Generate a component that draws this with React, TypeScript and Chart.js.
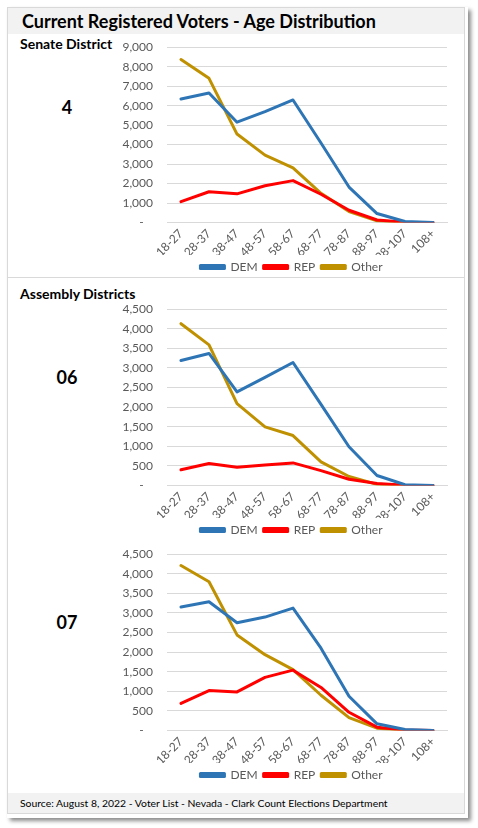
import React, { useEffect, useRef } from "react";
import { Chart, registerables } from "chart.js";

Chart.register(...registerables);

const ageGroups = ["18-27", "28-37", "38-47", "48-57", "58-67", "68-77", "78-87", "88-97", "98-107", "108+"];

const senate4Dem = [6340, 6650, 5150, 5690, 6290, 4080, 1820, 460, 50, 5];
const senate4Rep = [1070, 1580, 1470, 1890, 2150, 1450, 630, 130, 10, 0];
const senate4Other = [8370, 7400, 4540, 3460, 2810, 1500, 560, 90, 5, 0];

const assembly06Dem = [3190, 3370, 2390, 2760, 3140, 2070, 990, 255, 20, 2];
const assembly06Rep = [400, 560, 465, 525, 577, 380, 160, 50, 5, 0];
const assembly06Other = [4130, 3590, 2090, 1495, 1275, 605, 230, 30, 5, 0];

const assembly07Dem = [3150, 3285, 2750, 2895, 3125, 2100, 875, 170, 25, 3];
const assembly07Rep = [690, 1020, 985, 1355, 1540, 1100, 465, 85, 10, 0];
const assembly07Other = [4210, 3795, 2440, 1935, 1555, 900, 330, 60, 5, 0];

const seriesNames = ["DEM", "REP", "Other"];
const seriesColors = ["#2E75B6", "#FF0000", "#BF9000"];

const FONT = "Lato, 'Open Sans', sans-serif";
const TICK_COLOR = "#595959";
const GRID_COLOR = "#D9D9D9";

type ChartProps = {
  plotTop: number;
  legendY: number;
  max: number;
  step: number;
  dem: number[];
  rep: number[];
  other: number[];
};

const CANVAS_LEFT = 110;
const CANVAS_W = 345;
const PAD_RIGHT = 8;
const TICK_FONT = 12;
const Y_PAD = 14;
const TOP_OFFSET = (TICK_FONT * 1.2) / 2 + Y_PAD;
const LEGEND_SHIFT = 13;

const shiftLegend = {
  id: "shiftLegend",
  afterLayout(chart: any) {
    const lg = chart.legend;
    if (lg) {
      lg.left += LEGEND_SHIFT;
      lg.right += LEGEND_SHIFT;
    }
  },
};

function AgeChart({ plotTop, legendY, max, step, dem, rep, other }: ChartProps) {
  const ref = useRef<HTMLCanvasElement | null>(null);
  const top = plotTop - TOP_OFFSET;
  const height = Math.round(legendY + 16 - top);
  useEffect(() => {
    if (!ref.current) return;
    const values = [dem, rep, other];
    const chart = new Chart(ref.current, {
      type: "line",
      data: {
        labels: ageGroups,
        datasets: seriesNames.map((name, i) => ({
          label: name,
          data: values[i],
          borderColor: seriesColors[i],
          backgroundColor: seriesColors[i],
          borderWidth: 3,
          pointRadius: 0,
          pointHoverRadius: 0,
          tension: 0,
          borderJoinStyle: "round" as const,
          borderCapStyle: "round" as const,
        })),
      },
      plugins: [shiftLegend],
      options: {
        animation: false,
        responsive: false,
        maintainAspectRatio: false,
        layout: { padding: { top: 0, right: PAD_RIGHT, left: 0, bottom: 0 } },
        plugins: {
          tooltip: { enabled: false },
          legend: {
            position: "bottom",
            labels: {
              boxWidth: 24,
              boxHeight: 3,
              padding: 6,
              color: TICK_COLOR,
              font: { family: FONT, size: 12 },
            },
          },
        },
        scales: {
          x: {
            offset: true,
            grid: { display: false, drawTicks: false },
            border: { display: true, color: GRID_COLOR, width: 1 },
            ticks: {
              color: TICK_COLOR,
              font: { family: FONT, size: TICK_FONT },
              minRotation: 45,
              maxRotation: 45,
              padding: 4,
              autoSkip: false,
            },
            afterFit: (scale: any) => {
              scale.height = 32.5;
            },
          },
          y: {
            min: 0,
            max: max,
            grid: { color: GRID_COLOR, drawTicks: false },
            border: { display: false },
            ticks: {
              stepSize: step,
              padding: Y_PAD,
              color: TICK_COLOR,
              font: { family: FONT, size: TICK_FONT },
              callback: (v: any) => (Number(v) === 0 ? "-   " : Number(v).toLocaleString("en-US")),
            },
            afterFit: (scale: any) => {
              scale.width = 167 - CANVAS_LEFT;
            },
          },
        },
      },
    });
    return () => chart.destroy();
  }, []);
  return (
    <canvas
      ref={ref}
      width={CANVAS_W}
      height={height}
      style={{ position: "absolute", left: CANVAS_LEFT, top: top, width: CANVAS_W, height: height }}
    />
  );
}

const txt: React.CSSProperties = {
  position: "absolute",
  fontFamily: FONT,
  fontWeight: 700,
  color: "#000",
  whiteSpace: "nowrap",
  lineHeight: 1,
};

export default function App() {
  return (
    <div style={{ position: "absolute", left: 0, top: 0, width: 478, height: 828, background: "#fff" }}>
      <div
        style={{
          position: "absolute",
          left: 7,
          top: 7,
          width: 461,
          height: 811,
          background: "#fff",
          boxShadow: "3px 3px 4px rgba(0,0,0,0.45)",
        }}
      />
      <div
        style={{
          position: "absolute",
          left: 7,
          top: 7,
          width: 456,
          height: 805,
          border: "1px solid #D9D9D9",
        }}
      />
      <div style={{ position: "absolute", left: 8, top: 8, width: 456, height: 26, background: "#F2F2F2" }} />
      <div style={{ ...txt, left: 22, top: 12, fontSize: 18 }}>Current Registered Voters - Age Distribution</div>

      <div style={{ position: "absolute", left: 8, top: 277, width: 456, height: 1, background: "#D9D9D9" }} />

      <div style={{ position: "absolute", left: 8, top: 793, width: 456, height: 20, background: "#F2F2F2" }} />
      <div style={{ ...txt, left: 20, top: 798, fontSize: 10.4, fontWeight: 400 }}>
        Source: August 8, 2022 - Voter List - Nevada - Clark Count Elections Department
      </div>

      <div style={{ ...txt, left: 20, top: 37, fontSize: 14 }}>Senate District</div>
      <div style={{ ...txt, left: 47, top: 98, width: 40, textAlign: "center", fontSize: 18 }}>4</div>

      <div style={{ ...txt, left: 20, top: 287, fontSize: 14 }}>Assembly Districts</div>
      <div style={{ ...txt, left: 47, top: 368, width: 40, textAlign: "center", fontSize: 18 }}>06</div>
      <div style={{ ...txt, left: 47, top: 613, width: 40, textAlign: "center", fontSize: 18 }}>07</div>

      <AgeChart plotTop={47} legendY={267} max={9000} step={1000} dem={senate4Dem} rep={senate4Rep} other={senate4Other} />
      <AgeChart plotTop={309.3} legendY={530} max={4500} step={500} dem={assembly06Dem} rep={assembly06Rep} other={assembly06Other} />
      <AgeChart plotTop={554.3} legendY={775} max={4500} step={500} dem={assembly07Dem} rep={assembly07Rep} other={assembly07Other} />
    </div>
  );
}
